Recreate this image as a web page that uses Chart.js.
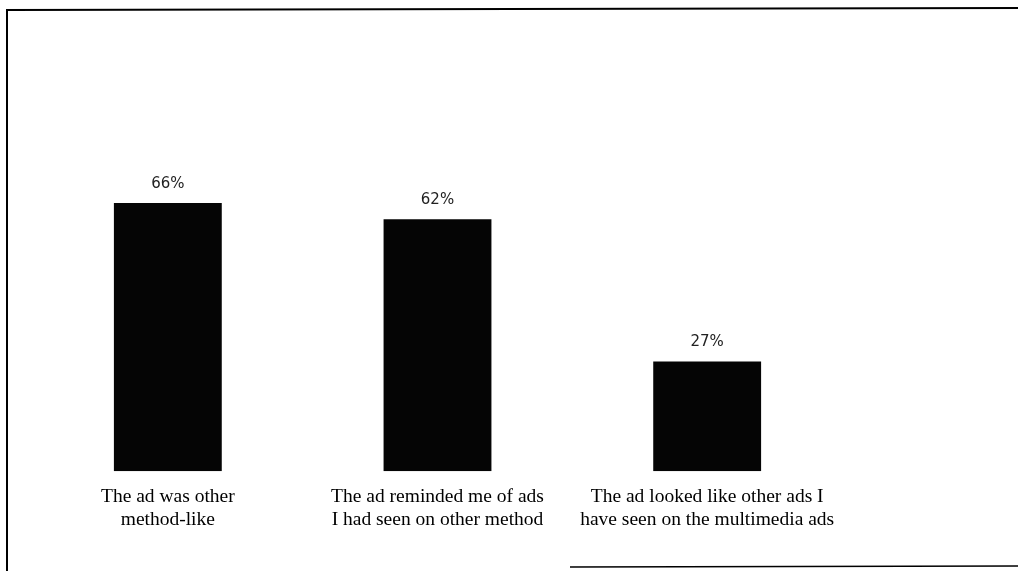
<!DOCTYPE html>
<html>
<head>
<meta charset="utf-8">
<script src="https://cdn.jsdelivr.net/npm/chart.js@4.4.0/dist/chart.umd.min.js"></script>
<style>
    html, body { margin: 0; padding: 0; background: #fff; }
    #wrap { width: 1018px; height: 571px; position: relative; }
</style>
</head>
<body>
<div id="wrap"><canvas id="chart"></canvas></div>
<script>
const categories = [
    ['The ad was other', 'method-like'],
    ['The ad reminded me of ads', 'I had seen on other method'],
    ['The ad looked like other ads I', 'have seen on the multimedia ads']
];
const percentages = [66, 62, 27];

// frame lines around the scanned figure + value labels above bars
const framePlugin = {
    id: 'frame',
    afterDraw(chart) {
        const ctx = chart.ctx;
        ctx.save();
        ctx.strokeStyle = '#000';
        ctx.lineWidth = 2;
        ctx.beginPath();
        ctx.moveTo(7, 571);
        ctx.lineTo(7, 10);
        ctx.lineTo(1018, 8);
        ctx.stroke();
        ctx.lineWidth = 1.5;
        ctx.beginPath();
        ctx.moveTo(570, 567);
        ctx.lineTo(1018, 566);
        ctx.stroke();

        ctx.fillStyle = '#222';
        ctx.font = '15px "DejaVu Sans", sans-serif';
        ctx.textAlign = 'center';
        ctx.textBaseline = 'middle';
        chart.getDatasetMeta(0).data.forEach((bar, i) => {
            ctx.fillText(percentages[i] + '%', bar.x, bar.y - 19);
        });
        ctx.restore();
    }
};

new Chart(document.getElementById('chart'), {
    type: 'bar',
    data: {
        labels: categories,
        datasets: [{
            data: percentages,
            backgroundColor: '#050505',
            borderWidth: 0,
            barPercentage: 0.4,
            categoryPercentage: 1.0
        }]
    },
    options: {
        responsive: true,
        maintainAspectRatio: false,
        animation: false,
        layout: {
            padding: { left: 33, right: 176, top: 65, bottom: 25 }
        },
        plugins: {
            legend: { display: false },
            tooltip: { enabled: false },
            title: { display: false }
        },
        scales: {
            y: {
                display: false,
                min: 0,
                max: 100
            },
            x: {
                grid: { display: false, drawTicks: false },
                border: { display: false },
                ticks: {
                    color: '#000',
                    padding: 14,
                    maxRotation: 0,
                    autoSkip: false,
                    font: { family: '"Liberation Serif", "Times New Roman", serif', size: 19.5, lineHeight: 1.2 }
                }
            }
        }
    },
    plugins: [framePlugin]
});
</script>
</body>
</html>
